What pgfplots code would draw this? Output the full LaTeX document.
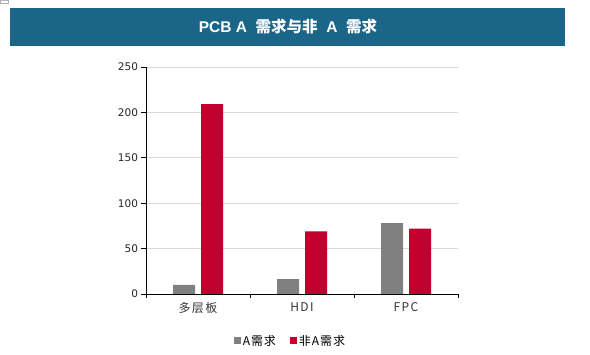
\documentclass[border=0pt]{standalone}
\usepackage{fontspec}
\usepackage{pgfplots}
\pgfplotsset{compat=1.18}
\setmainfont{DejaVu Sans}
\newfontfamily\cjk{Noto Sans CJK SC}
\newfontfamily\cjksp{Noto Sans CJK SC}[LetterSpace=12]
\newfontfamily\cjkleg{Noto Sans CJK SC}[LetterSpace=8]
\newfontfamily\lat{Liberation Sans}
\definecolor{banner}{HTML}{1B6688}
\definecolor{barred}{HTML}{C0002F}
\definecolor{bargray}{HTML}{808080}
\begin{document}
\begin{tikzpicture}[x=1pt,y=1pt]
\path[use as bounding box] (0,0) rectangle (590,355);
\fill[white] (0,0) rectangle (590,355);
\fill[banner] (10,309) rectangle (565,347);
\node[text=white,font=\lat\bfseries\fontsize{15.5}{17}\selectfont] at (288,328) {PCB A\ \ {\cjk\bfseries 需求与非}\ \ A\ \ {\cjk\bfseries 需求}};
\draw[gray!60,line width=0.5pt] (0,352) rectangle (8,355);
\begin{axis}[
  at={(146pt,61pt)}, anchor=south west,
  scale only axis, width=312pt, height=227pt,
  ymin=0, ymax=250, ytick={0,50,100,150,200,250},
  xmin=-0.5, xmax=2.5,
  xtick={-0.5,0.5,1.5,2.5},
  xticklabels={},
  extra x ticks={0,1,2},
  extra x tick labels={多层板,HDI,FPC},
  extra x tick style={major tick length=0pt, xticklabel style={font=\cjksp\fontsize{12}{14}\selectfont, text=black!80, yshift=-5pt}},
  y tick label style={font=\fontsize{10.5}{12}\selectfont, text=black!85},
  /pgf/number format/assume math mode=true,
  tick align=outside,
  tick style={draw=black, line width=0.6pt},
  major tick length=4.5pt,
  axis x line*=bottom, axis y line*=left,
  axis line style={black, line width=0.7pt, -},
  ymajorgrids, grid style={gray!30, line width=0.8pt},
  ybar=6pt, bar width=22pt,
  legend style={at={(0.463,-0.207)}, anchor=center, draw=none, legend columns=2,
    font=\cjkleg\fontsize{12}{14}\selectfont, /tikz/every even column/.append style={column sep=12pt}},
  legend image code/.code={\fill[#1] (0pt,-3.5pt) rectangle (7pt,3.5pt);},
]
\addplot[fill=bargray, draw=none] coordinates {(0,10) (1,16.5) (2,78)};
\addplot[fill=barred, draw=none] coordinates {(0,209) (1,69) (2,72)};
\legend{A需求,非A需求}
\end{axis}
\end{tikzpicture}
\end{document}
